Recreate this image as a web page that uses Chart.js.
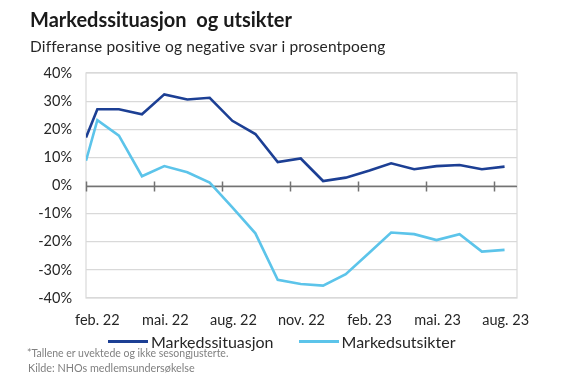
<!DOCTYPE html>
<html>
<head>
<meta charset="utf-8">
<script src="https://cdn.jsdelivr.net/npm/chart.js@4/dist/chart.umd.min.js"></script>
<style>
  html, body { margin:0; padding:0; background:#fff; }
  #wrap { position:relative; width:568px; height:381px; overflow:hidden; font-family: Lato, "Open Sans", sans-serif; }
  #c { position:absolute; left:0; top:0; }
  .t { position:absolute; white-space:nowrap; color:#1a1a1a; }
  #title { left:30px; top:7px; font-size:20px; font-weight:bold; }
  #sub { left:30px; top:37px; font-size:15.5px; color:#262626; letter-spacing:0.15px; }
  #legend { position:absolute; top:332px; left:108px; font-size:16px; color:#262626; display:flex; align-items:center; }
  .li { display:flex; align-items:center; margin-right:25px; }
  .sw { width:40px; height:3px; margin-right:3px; }
  .fn { position:absolute; left:27px; font-size:10.5px; color:#808080; }
</style>
</head>
<body>
<div id="wrap">
  <canvas id="c" width="568" height="381"></canvas>
  <div class="t" id="title">Markedssituasjon&nbsp; og utsikter</div>
  <div class="t" id="sub">Differanse positive og negative svar i prosentpoeng</div>
  <div id="legend"></div>
  <div class="fn" style="top:347px">*Tallene er uvektede og ikke sesongjusterte.</div>
  <div class="fn" style="top:361px;left:28px;font-size:10.8px">Kilde: NHOs medlemsundersøkelse</div>
</div>
<script>
// ---- data ----
const dates = ['2022-02-01','2022-02-15','2022-03-15','2022-04-15','2022-05-15','2022-06-15','2022-07-15','2022-08-15','2022-09-15','2022-10-15','2022-11-15','2022-12-15','2023-01-15','2023-02-15','2023-03-15','2023-04-15','2023-05-15','2023-06-15','2023-07-15','2023-08-15'];
const markedssituasjon = [17.1, 27.1, 27.1, 25.3, 32.4, 30.6, 31.2, 23.0, 18.3, 8.3, 9.6, 1.6, 2.8, 5.3, 7.9, 5.8, 6.9, 7.3, 5.8, 6.7];
const markedsutsikter  = [8.8, 23.2, 17.7, 3.3, 6.9, 4.7, 1.0, -7.8, -17.0, -33.5, -35.0, -35.6, -31.5, -23.8, -16.7, -17.3, -19.4, -17.3, -23.5, -22.9];
const tickDates  = ['2022-02-01','2022-05-01','2022-08-01','2022-11-01','2023-02-01','2023-05-01','2023-08-01'];
const tickLabels = ['feb. 22','mai. 22','aug. 22','nov. 22','feb. 23','mai. 23','aug. 23'];
const seriesNames = ['Markedssituasjon','Markedsutsikter'];
const yTicks = [-40,-30,-20,-10,0,10,20,30,40];

// months since Feb 2022
function mo(s){
  const [y,m,d] = s.split('-').map(Number);
  const dim = new Date(y, m, 0).getDate();
  return (y-2022)*12 + (m-2) + (d-1)/dim;
}
const axisEnd = mo('2023-09-01');
const colors = ['#1c3f94','#5cc4ea'];

const mk = (vals) => dates.map((d,i)=>({x: mo(d), y: vals[i]}));

const frame = {
  id:'frame',
  beforeDatasetsDraw(chart){
    const {ctx, chartArea:a, scales:{x,y}} = chart;
    ctx.save();
    ctx.strokeStyle = '#d9d9d9'; ctx.lineWidth = 1.2;
    ctx.strokeRect(a.left, a.top, a.right-a.left, a.bottom-a.top);
    const y0 = Math.round(y.getPixelForValue(0)) + 0.5;
    ctx.strokeStyle = '#737373'; ctx.lineWidth = 1.5;
    ctx.beginPath(); ctx.moveTo(a.left, y0); ctx.lineTo(a.right, y0); ctx.stroke();
    tickDates.forEach(t=>{
      const px = Math.round(x.getPixelForValue(mo(t)))+0.5;
      ctx.beginPath(); ctx.moveTo(px, y0-5); ctx.lineTo(px, y0+5); ctx.stroke();
    });
    ctx.restore();
  }
};

new Chart(document.getElementById('c'), {
  type:'line',
  data:{ datasets:[
    {label:seriesNames[0], data:mk(markedssituasjon), borderColor:colors[0], backgroundColor:colors[0], borderWidth:2.6, pointRadius:0, tension:0},
    {label:seriesNames[1], data:mk(markedsutsikter), borderColor:colors[1], backgroundColor:colors[1], borderWidth:2.6, pointRadius:0, tension:0}
  ]},
  options:{
    responsive:false, animation:false,
    layout:{ padding:{left:0, right:51, top:73, bottom:53} },
    plugins:{ legend:{display:false}, tooltip:{enabled:false} },
    scales:{
      x:{ type:'linear', min:0, max:axisEnd,
          grid:{display:false}, border:{display:false},
          afterBuildTicks(s){ s.ticks = tickDates.map(t=>({value: mo(t)+0.5})); },
          afterFit(s){ s.height = 30; },
          ticks:{ autoSkip:false, maxRotation:0, color:'#262626', padding:6,
                  font:{family:'Lato', size:14.5},
                  callback:(v,i)=>tickLabels[i] } },
      y:{ min:-40, max:40,
          afterBuildTicks(s){ s.ticks = yTicks.map(v=>({value:v})); },
          afterFit(s){ s.width = 86; },
          grid:{color:'#d9d9d9', lineWidth:1.2, drawTicks:false},
          border:{display:false},
          ticks:{ color:'#262626', padding:14, font:{family:'Lato', size:14.5},
                  callback:(v)=>v+'%' } }
    }
  },
  plugins:[frame]
});

// legend built from series
const lg = document.getElementById('legend');
seriesNames.forEach((n,i)=>{
  const it = document.createElement('div'); it.className='li';
  const sw = document.createElement('div'); sw.className='sw'; sw.style.background=colors[i];
  const tx = document.createElement('span'); tx.textContent=n;
  it.appendChild(sw); it.appendChild(tx); lg.appendChild(it);
});
</script>
</body>
</html>
